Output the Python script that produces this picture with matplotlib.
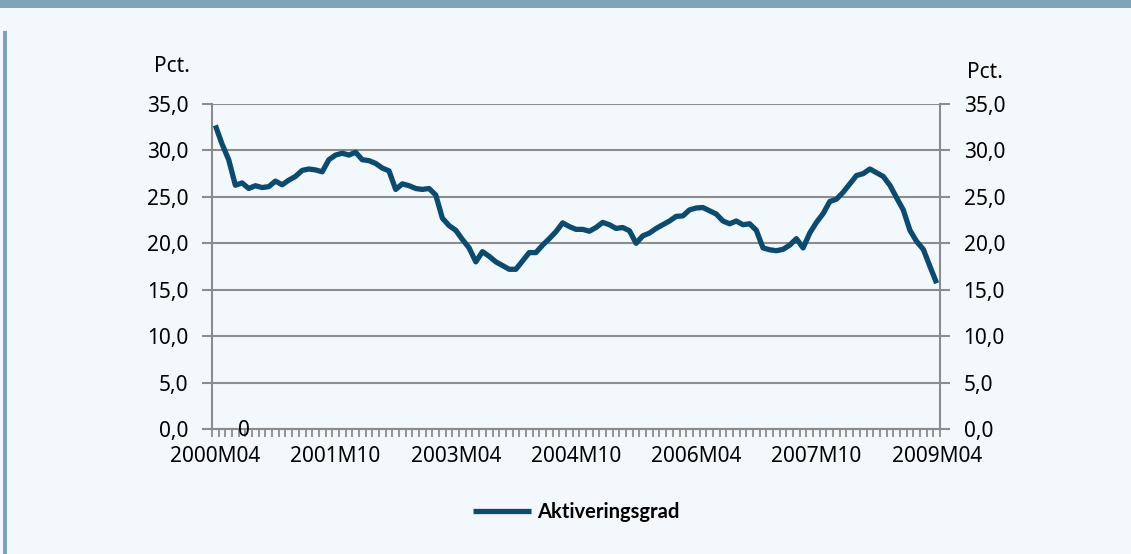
import matplotlib
matplotlib.use("Agg")
import matplotlib.pyplot as plt
from matplotlib.patches import Rectangle
from matplotlib.ticker import FixedLocator, FuncFormatter

plt.rcParams['font.family'] = ['Noto Sans', 'DejaVu Sans']

# Monthly data 2000M04 .. 2009M04
start_year, start_month = 2000, 4
values = [
    32.7, 30.7, 29.0, 26.25, 26.5, 25.9, 26.2, 26.0, 26.1, 26.7,
    26.3, 26.8, 27.2, 27.85, 28.0, 27.9, 27.7, 29.0, 29.5, 29.7,
    29.5, 29.8, 29.0, 28.9, 28.6, 28.1, 27.8, 25.8, 26.4, 26.2,
    25.9, 25.8, 25.9, 25.2, 22.7, 21.9, 21.4, 20.4, 19.5, 18.0,
    19.1, 18.6, 18.0, 17.6, 17.2, 17.2, 18.1, 19.0, 19.0, 19.8,
    20.5, 21.25, 22.2, 21.8, 21.5, 21.5, 21.3, 21.7, 22.25, 22.0,
    21.6, 21.7, 21.35, 20.0, 20.8, 21.1, 21.6, 22.0, 22.4, 22.9,
    22.95, 23.6, 23.8, 23.85, 23.5, 23.15, 22.4, 22.1, 22.4, 22.0,
    22.1, 21.4, 19.5, 19.3, 19.2, 19.35, 19.8, 20.5, 19.5, 21.1,
    22.25, 23.2, 24.5, 24.75, 25.5, 26.4, 27.3, 27.5, 28.0, 27.6,
    27.2, 26.25, 24.9, 23.6, 21.4, 20.2, 19.35, 17.5, 15.7,
]
categories = []
for k in range(len(values)):
    m = start_month - 1 + k
    categories.append(f"{start_year + m // 12}M{m % 12 + 1:02d}")
series_name = "Aktiveringsgrad"
yticks = [0, 5, 10, 15, 20, 25, 30, 35]
label_step = 18

W, H = 1131, 554
bg = "#f3f8fd"
frame = "#7fa3b8"
line_col = "#0c4a6e"
grid_col = "#8c8c8c"
fs = 15

fig = plt.figure(figsize=(W / 100, H / 100), dpi=100, facecolor=bg)
# frame decorations
fig.patches.append(Rectangle((0, 1 - 8 / H), 1, 8 / H, transform=fig.transFigure,
                             facecolor=frame, edgecolor='none', zorder=0))
fig.patches.append(Rectangle((3 / W, 0), 4 / W, 1 - 31 / H, transform=fig.transFigure,
                             facecolor=frame, edgecolor='none', zorder=0))

ax = fig.add_axes([212 / W, 125 / H, 728 / W, 325 / H])
ax.set_facecolor(bg)
x = list(range(len(values)))
ax.plot(x, values, color=line_col, lw=3.8, solid_joinstyle='round',
        solid_capstyle='butt', label=series_name, zorder=3)

ax.set_xlim(-0.5, len(values) - 0.5)
ax.set_ylim(0, 35)
ax.set_yticks(yticks)
ax.yaxis.set_major_formatter(FuncFormatter(lambda v, p: f"{v:.1f}".replace('.', ',')))
ax.grid(axis='y', color=grid_col, lw=1.5, zorder=1)
ax.set_axisbelow(True)

ax.spines['top'].set_visible(False)
for s in ['left', 'right', 'bottom']:
    ax.spines[s].set_color(grid_col)
    ax.spines[s].set_linewidth(1.5)

label_pos = list(range(0, len(values), label_step))
ax.set_xticks(label_pos)
ax.set_xticklabels([categories[i] for i in label_pos])
ax.xaxis.set_minor_locator(FixedLocator([i + 0.5 for i in range(-1, len(values))]))
ax.tick_params(axis='x', which='major', length=0, pad=12, labelsize=fs, labelcolor='black')
ax.tick_params(axis='x', which='minor', length=6, width=1.3, color=grid_col, direction='out')
ax.tick_params(axis='y', which='major', length=7, width=1.5, color=grid_col,
               labelsize=fs, pad=10, right=True, labelright=True)

fig.text(172 / W, 1 - 67 / H, "Pct.", fontsize=fs, ha='center', va='center')
fig.text(985 / W, 1 - 73 / H, "Pct.", fontsize=fs, ha='center', va='center')
fig.text(244 / W, 1 - 430 / H, "0", fontsize=fs, ha='center', va='center')

ax.legend(loc='center', bbox_to_anchor=(576 / W, 1 - 512 / H), bbox_transform=fig.transFigure,
          frameon=False, prop={'family': 'Lato', 'weight': 'bold', 'size': 14.5},
          handlelength=2.9, handletextpad=0.3)

fig.savefig("out.png", dpi=100, facecolor=bg)
